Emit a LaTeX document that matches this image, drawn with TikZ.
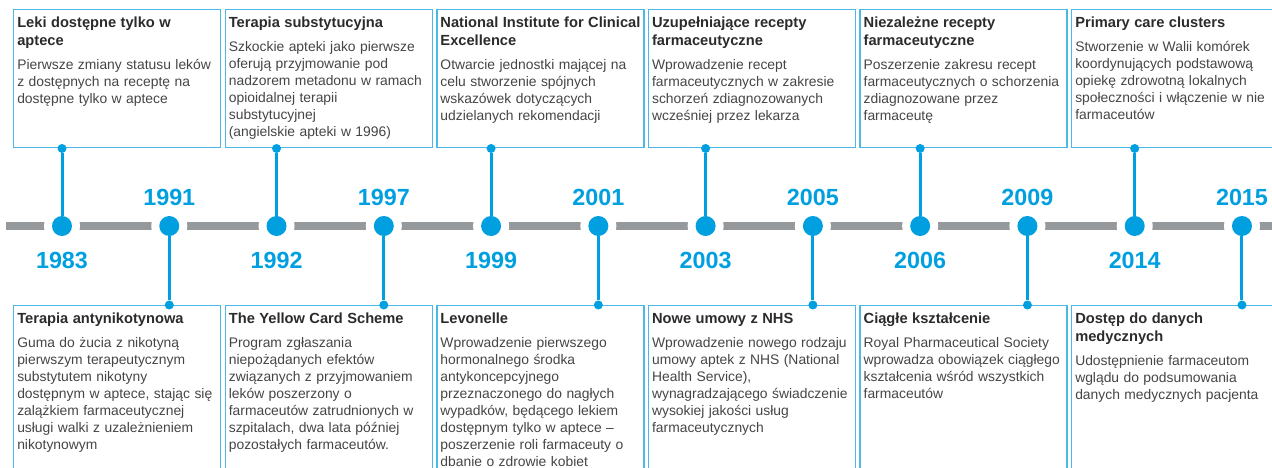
\documentclass[tikz,border=0pt]{standalone}
\usepackage{fontspec}
\usetikzlibrary{calc}
\setmainfont{Liberation Sans}
\newfontfamily\yearfont{Liberation Sans}
\definecolor{tlblue}{HTML}{009FE0}
\definecolor{boxblue}{HTML}{4CB8EA}
\definecolor{tlgray}{HTML}{96999C}
\definecolor{titlegray}{HTML}{2B2B2B}
\definecolor{bodygray}{HTML}{454545}
\newcommand{\evt}[2]{\rule{0pt}{13.5pt}{\color{titlegray}\bfseries\fontsize{11}{13.5}\selectfont #1\par}\vspace{5.6pt}{\color{bodygray}\fontsize{10.4}{12.75}\selectfont #2\par}}
\tikzset{
  evbox/.style={draw=boxblue, line width=1.1pt, anchor=north west, inner sep=0, minimum width=155.25pt},
  evtext/.style={anchor=north west, inner sep=0, text width=175pt, align=left},
  tldot/.style={circle, fill=tlblue, minimum size=15pt, inner sep=0},
  halo/.style={circle, fill=white, minimum size=27pt, inner sep=0},
  pin/.style={circle, fill=tlblue, minimum size=6.75pt, inner sep=0},
  conn/.style={draw=tlblue, line width=2.25pt},
  yearlbl/.style={text=tlblue, inner sep=0, font=\yearfont\bfseries\fontsize{17.5}{20}\selectfont}
}
\begin{document}
\begin{tikzpicture}[x=0.75pt, y=-0.75pt]
\useasboundingbox (0,0) rectangle (1272,468);
\clip (0,0) rectangle (1272,468);
% timeline
\coordinate (tlstart) at (6,226);
\coordinate (tlend) at (1272,226);
\draw[tlgray, line width=6pt] (tlstart) -- (tlend);
\foreach \i in {0,...,11} {
  \node[halo] (h\i) at ({62+107.27*\i},226) {};
  \node[tldot] (d\i) at (h\i) {};
}
% boxes
\foreach \j in {0,...,5} {
  \node[evbox, minimum height=103.5pt] (t\j) at ({13+211.6*\j},9) {};
  \node[evbox, minimum height=135pt] (b\j) at ({13+211.6*\j},305) {};
}
% connectors
\foreach \j [evaluate=\j as \e using int(2*\j), evaluate=\j as \o using int(2*\j+1)] in {0,...,5} {
  \node[pin] (tp\j) at (d\e |- t\j.south) {};
  \node[pin] (bp\j) at (d\o |- b\j.north) {};
  \draw[conn] (d\e) -- (tp\j);
  \draw[conn] (d\o) -- (bp\j);
}
% years
\node[yearlbl] (y1983) at (d0 |- 0,260) {1983};
\node[yearlbl] (y1991) at (d1 |- 0,197) {1991};
\node[yearlbl] (y1992) at (d2 |- 0,260) {1992};
\node[yearlbl] (y1997) at (d3 |- 0,197) {1997};
\node[yearlbl] (y1999) at (d4 |- 0,260) {1999};
\node[yearlbl] (y2001) at (d5 |- 0,197) {2001};
\node[yearlbl] (y2003) at (d6 |- 0,260) {2003};
\node[yearlbl] (y2005) at (d7 |- 0,197) {2005};
\node[yearlbl] (y2006) at (d8 |- 0,260) {2006};
\node[yearlbl] (y2009) at (d9 |- 0,197) {2009};
\node[yearlbl] (y2014) at (d10 |- 0,260) {2014};
\node[yearlbl] (y2015) at (d11 |- 0,197) {2015};
% top texts
\node[evtext] (tt0) at ($(t0.north west)+(4,0)$) {\evt{Leki dostępne tylko w\\aptece}{Pierwsze zmiany statusu leków\\z dostępnych na receptę na\\dostępne tylko w aptece}};
\node[evtext] (tt1) at ($(t1.north west)+(4,0)$) {\evt{Terapia substytucyjna}{Szkockie apteki jako pierwsze\\oferują przyjmowanie pod\\nadzorem metadonu w ramach\\opioidalnej terapii\\substytucyjnej\\(angielskie apteki w 1996)}};
\node[evtext] (tt2) at ($(t2.north west)+(4,0)$) {\evt{National Institute for Clinical\\Excellence}{Otwarcie jednostki mającej na\\celu stworzenie spójnych\\wskazówek dotyczących\\udzielanych rekomendacji}};
\node[evtext] (tt3) at ($(t3.north west)+(4,0)$) {\evt{Uzupełniające recepty\\farmaceutyczne}{Wprowadzenie recept\\farmaceutycznych w zakresie\\schorzeń zdiagnozowanych\\wcześniej przez lekarza}};
\node[evtext] (tt4) at ($(t4.north west)+(4,0)$) {\evt{Niezależne recepty\\farmaceutyczne}{Poszerzenie zakresu recept\\farmaceutycznych o schorzenia\\zdiagnozowane przez\\farmaceutę}};
\node[evtext] (tt5) at ($(t5.north west)+(4,0)$) {\evt{Primary care clusters}{Stworzenie w Walii komórek\\koordynujących podstawową\\opiekę zdrowotną lokalnych\\społeczności i włączenie w nie\\farmaceutów}};
% bottom texts
\node[evtext] (bt0) at ($(b0.north west)+(4,0)$) {\evt{Terapia antynikotynowa}{Guma do żucia z nikotyną\\pierwszym terapeutycznym\\substytutem nikotyny\\dostępnym w aptece, stając się\\zalążkiem farmaceutycznej\\usługi walki z uzależnieniem\\nikotynowym}};
\node[evtext] (bt1) at ($(b1.north west)+(4,0)$) {\evt{The Yellow Card Scheme}{Program zgłaszania\\niepożądanych efektów\\związanych z przyjmowaniem\\leków poszerzony o\\farmaceutów zatrudnionych w\\szpitalach, dwa lata później\\pozostałych farmaceutów.}};
\node[evtext] (bt2) at ($(b2.north west)+(4,0)$) {\evt{Levonelle}{Wprowadzenie pierwszego\\hormonalnego środka\\antykoncepcyjnego\\przeznaczonego do nagłych\\wypadków, będącego lekiem\\dostępnym tylko w aptece –\\poszerzenie roli farmaceuty o\\dbanie o zdrowie kobiet}};
\node[evtext] (bt3) at ($(b3.north west)+(4,0)$) {\evt{Nowe umowy z NHS}{Wprowadzenie nowego rodzaju\\umowy aptek z NHS (National\\Health Service),\\wynagradzającego świadczenie\\wysokiej jakości usług\\farmaceutycznych}};
\node[evtext] (bt4) at ($(b4.north west)+(4,0)$) {\evt{Ciągłe kształcenie}{Royal Pharmaceutical Society\\wprowadza obowiązek ciągłego\\kształcenia wśród wszystkich\\farmaceutów}};
\node[evtext] (bt5) at ($(b5.north west)+(4,0)$) {\evt{Dostęp do danych\\medycznych}{Udostępnienie farmaceutom\\wglądu do podsumowania\\danych medycznych pacjenta}};
\end{tikzpicture}
\end{document}
